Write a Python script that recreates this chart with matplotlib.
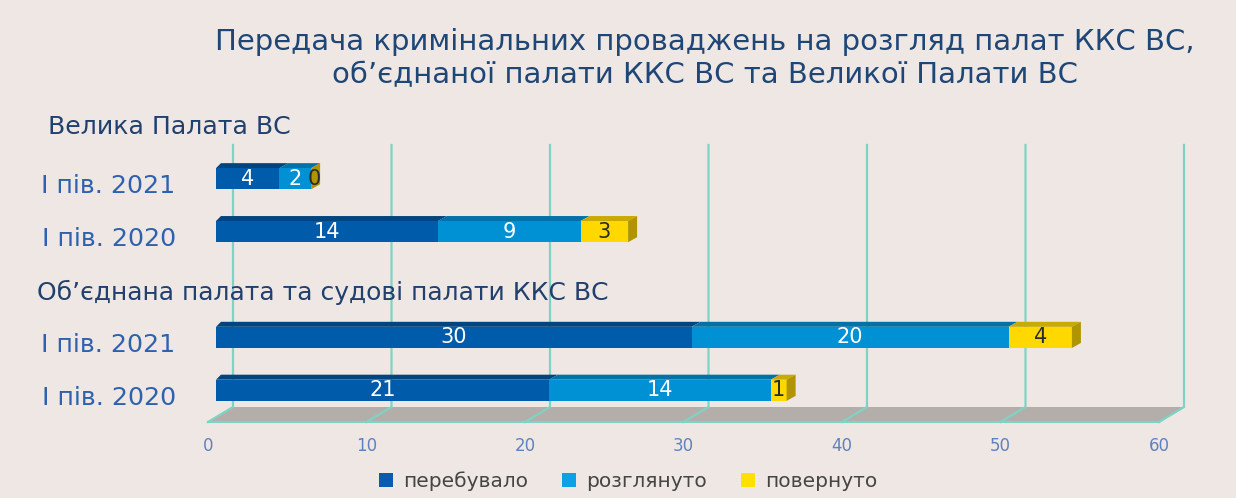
import matplotlib
matplotlib.use("Agg")
import matplotlib.pyplot as plt
import numpy as np
from matplotlib.patches import Polygon, Patch
from matplotlib.transforms import IdentityTransform, ScaledTranslation
from matplotlib.lines import Line2D

# ---------------- data ----------------
title = "Передача кримінальних проваджень на розгляд палат ККС ВС,\nоб’єднаної палати ККС ВС та Великої Палати ВС"
group_names = ["Велика Палата ВС", "Об’єднана палата та судові палати ККС ВС"]
categories = ["І пів. 2021", "І пів. 2020", "І пів. 2021", "І пів. 2020"]
cat_pos = [4, 3, 1, 0]
series_names = ["перебувало", "розглянуто", "повернуто"]
perebuvalo = [4, 14, 30, 21]
rozglianuto = [2, 9, 20, 14]
povernuto = [0, 3, 4, 1]
x_ticks = [0, 10, 20, 30, 40, 50, 60]

# ---------------- style ----------------
BG = "#EEE7E4"
front_cols = ["#005BAA", "#0091D5", "#FFD800"]
top_cols = ["#00457F", "#0072A8", "#C9AA00"]
legend_cols = ["#0A5BB0", "#0CA0E4", "#FFE000"]
side_col = "#B09400"
txt_cols = ["white", "white", "#2B2B2B"]
GRID = "#7FD3C4"
FLOOR = "#B4AEAA"
DPI = 100
W, H = 1236, 498

plt.rcParams["font.family"] = ["DejaVu Sans"]

fig = plt.figure(figsize=(W / DPI, H / DPI), dpi=DPI, facecolor=BG)
ax_left, ax_right = 216, 1167
ax_top, ax_bot = 147, 422
ax = fig.add_axes([ax_left / W, (H - ax_bot) / H, (ax_right - ax_left) / W, (ax_bot - ax_top) / H])
ax.set_facecolor("none")
ax.set_xlim(0, 60)
ax.set_ylim(-0.6, 4.6)
for s in ax.spines.values():
    s.set_visible(False)

BAR_H = 0.4
DX, DY = 9, 5          # depth of bars (px)
FDX_F, FDX_B, FDY = -8, 17, 15   # floor front/back x offsets, depth

def disp(x, y):
    return ax.transData.transform((x, y))

def add(artist):
    ax.add_artist(artist)
    artist.set_clip_on(False)

# ---- gridlines (back wall + floor diagonals) and floor ----
y_floor_front = disp(0, -0.6)[1]
y_floor_back = y_floor_front + FDY
y_wall_top = disp(0, 4.6)[1] + 2
x0f = disp(x_ticks[0], 0)[0]
x1f = disp(x_ticks[-1], 0)[0]
add(Polygon([(x0f + FDX_F, y_floor_front), (x1f + FDX_F, y_floor_front),
             (x1f + FDX_B, y_floor_back), (x0f + FDX_B, y_floor_back)],
            closed=True, transform=IdentityTransform(), facecolor=FLOOR,
            edgecolor="none", zorder=1))
add(Line2D([x0f + FDX_F, x1f + FDX_F], [y_floor_front, y_floor_front],
           transform=IdentityTransform(), color=GRID, lw=1.5, zorder=2))
add(Line2D([x1f + FDX_F, x1f + FDX_B], [y_floor_front, y_floor_back],
           transform=IdentityTransform(), color=GRID, lw=1.0, zorder=2))
for t in x_ticks:
    xd = disp(t, 0)[0]
    add(Line2D([xd + FDX_B, xd + FDX_B, xd + FDX_F],
               [y_wall_top, y_floor_back, y_floor_front],
               transform=IdentityTransform(), color=GRID, lw=1.6, zorder=2))

# ---- bars ----
series = [perebuvalo, rozglianuto, povernuto]
left = np.zeros(len(categories))
for si, vals in enumerate(series):
    vals = np.array(vals, dtype=float)
    ax.barh(cat_pos, vals, left=left, height=BAR_H, color=front_cols[si],
            edgecolor="none", zorder=4)
    for i, (p, v, l) in enumerate(zip(cat_pos, vals, left)):
        xa, ya = disp(l, p + BAR_H / 2)
        xb, _ = disp(l + v, p + BAR_H / 2)
        if v > 0:
            xa_back = xa + (DX * 0.55 if l == 0 else DX)
            add(Polygon([(xa, ya), (xb, ya), (xb + DX, ya + DY), (xa_back, ya + DY)],
                        closed=True, transform=IdentityTransform(),
                        facecolor=top_cols[si], edgecolor="none", zorder=3))
        ax.text(l + v / 2, p, f"{int(v)}", ha="center", va="center",
                color=txt_cols[si], fontsize=15, zorder=6,
                transform=ax.transData + ScaledTranslation((3 if v == 0 else 0) / DPI, 0, fig.dpi_scale_trans))
    left = left + vals

# side faces at end of each stack
for p, tot in zip(cat_pos, left):
    xr, yt = disp(tot, p + BAR_H / 2)
    _, yb = disp(tot, p - BAR_H / 2)
    add(Polygon([(xr, yb), (xr, yt), (xr + DX, yt + DY), (xr + DX, yb + DY)],
                closed=True, transform=IdentityTransform(), facecolor=side_col,
                edgecolor="none", zorder=5))

# ---- axis tick labels ----
ax.set_xticks(x_ticks)
ax.set_xticklabels([str(t) for t in x_ticks], color="#5F82BE", fontsize=12)
ax.tick_params(axis="x", length=0, pad=11)
for lab in ax.get_xticklabels():
    lab.set_transform(lab.get_transform() + ScaledTranslation(FDX_F / DPI, 0, fig.dpi_scale_trans))

ax.set_yticks(cat_pos)
ax.set_yticklabels(categories, color="#2E62AE", fontsize=18.2)
ax.tick_params(axis="y", length=0, pad=29)
for lab in ax.get_yticklabels():
    lab.set_transform(lab.get_transform() + ScaledTranslation(0, -5 / DPI, fig.dpi_scale_trans))

# ---- group headers & title ----
fig.text(48 / W, 1 - 127 / H, group_names[0], ha="left", va="center",
         color="#22406E", fontsize=18.2)
fig.text(37 / W, 1 - 292 / H, group_names[1], ha="left", va="center",
         color="#22406E", fontsize=18)
fig.text(705 / W, 1 - 58.5 / H, title, ha="center", va="center",
         color="#1E4677", fontsize=21, linespacing=1.25)

# ---- legend ----
handles = [Patch(facecolor=c, edgecolor="none") for c in legend_cols]
leg = fig.legend(handles, series_names, loc="center", ncol=3,
                 bbox_to_anchor=(628 / W, 1 - 481 / H), frameon=False,
                 handlelength=0.7, handleheight=0.7, handletextpad=0.5,
                 columnspacing=1.7, fontsize=14.5)
for t in leg.get_texts():
    t.set_color("#454545")

fig.savefig("out.png", dpi=DPI, facecolor=BG)
